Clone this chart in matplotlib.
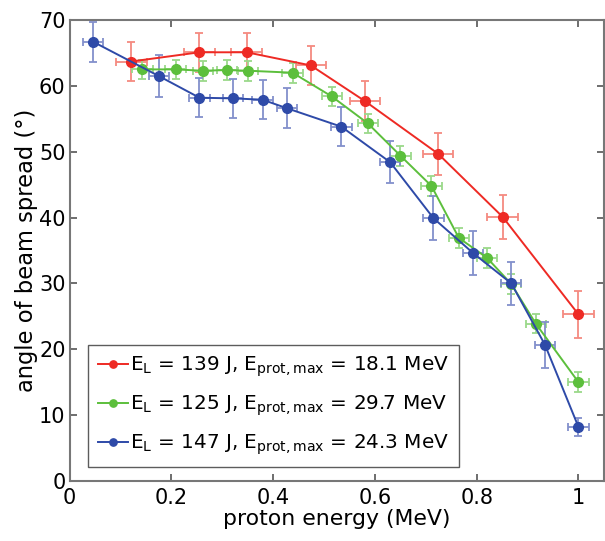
import numpy as np
import matplotlib
matplotlib.use('Agg')
import matplotlib.pyplot as plt

plt.rcParams['font.family'] = ['DejaVu Sans']
plt.rcParams['mathtext.fontset'] = 'dejavusans'

# red series: E_L = 139 J
x_red = [0.121, 0.255, 0.348, 0.474, 0.580, 0.724, 0.851, 1.000]
y_red = [63.7, 65.1, 65.1, 63.1, 57.7, 49.7, 40.1, 25.3]
yerr_red = [3.0, 3.0, 3.0, 3.0, 3.0, 3.2, 3.3, 3.6]
xerr_red = [0.03] * 8

# green series: E_L = 125 J
x_green = [0.143, 0.208, 0.262, 0.309, 0.350, 0.438, 0.515, 0.586, 0.650,
           0.711, 0.765, 0.820, 0.868, 0.916, 1.000]
y_green = [62.5, 62.5, 62.3, 62.4, 62.3, 62.0, 58.4, 54.3, 49.4,
           44.8, 36.9, 33.9, 29.9, 23.9, 15.0]
yerr_green = [1.5] * 15
xerr_green = [0.02] * 15

# blue series: E_L = 147 J
x_blue = [0.046, 0.175, 0.255, 0.321, 0.379, 0.427, 0.534, 0.630, 0.715,
          0.793, 0.868, 0.934, 1.000]
y_blue = [66.7, 61.5, 58.2, 58.1, 57.9, 56.6, 53.8, 48.4, 39.9,
          34.6, 30.0, 20.7, 8.2]
yerr_blue = [3.0, 3.2, 3.0, 3.0, 3.0, 3.0, 3.0, 3.2, 3.3, 3.3, 3.3, 3.5, 1.3]
xerr_blue = [0.02] * 13

labels = [r'E$_\mathregular{L}$ = 139 J, E$_\mathregular{prot,max}$ = 18.1 MeV',
          r'E$_\mathregular{L}$ = 125 J, E$_\mathregular{prot,max}$ = 29.7 MeV',
          r'E$_\mathregular{L}$ = 147 J, E$_\mathregular{prot,max}$ = 24.3 MeV']

series = [(x_red, y_red, xerr_red, yerr_red, '#ee2a24', '#f58a80'),
          (x_green, y_green, xerr_green, yerr_green, '#5cbf3c', '#9bd98a'),
          (x_blue, y_blue, xerr_blue, yerr_blue, '#2e4aa8', '#8290cc')]

fig = plt.figure(figsize=(6.05, 5.41), dpi=100)
ax = fig.add_axes([0.1152, 0.111, 0.883, 0.852])

handles = []
for (x, y, xe, ye, c, ce), lab in zip(series, labels):
    ax.errorbar(x, y, yerr=ye, xerr=xe, fmt='none', ecolor=ce,
                elinewidth=1.3, capsize=3, capthick=1.3, zorder=2)
    h, = ax.plot(x, y, '-o', color=c, lw=1.4, ms=7, zorder=3, label=lab)
    handles.append(h)

ax.set_xlim(0, 1.05)
ax.set_ylim(0, 70)
ax.set_xticks([0, 0.2, 0.4, 0.6, 0.8, 1])
ax.set_xticklabels(['0', '0.2', '0.4', '0.6', '0.8', '1'])
ax.set_yticks(range(0, 71, 10))
ax.tick_params(direction='in', top=True, right=True, length=5, width=1.2,
               color='#555555', labelsize=15)
ax.tick_params(axis='y', pad=3)
ax.tick_params(axis='x', pad=5)
for s in ax.spines.values():
    s.set_color('#777777')
    s.set_linewidth(1.5)

ax.set_xlabel('proton energy (MeV)', fontsize=15.8, labelpad=1)
ax.set_ylabel('angle of beam spread (°)', fontsize=16.3, labelpad=1)

leg = ax.legend(handles=handles, loc='lower left',
                bbox_to_anchor=(0.034, 0.03), fontsize=14.4, frameon=True,
                fancybox=False, edgecolor='#333333', handlelength=1.5,
                handletextpad=0.12, borderpad=0.5, labelspacing=0.72,
                borderaxespad=0, markerscale=0.75)
leg.get_frame().set_linewidth(1.0)

fig.savefig('out.png', dpi=100)
